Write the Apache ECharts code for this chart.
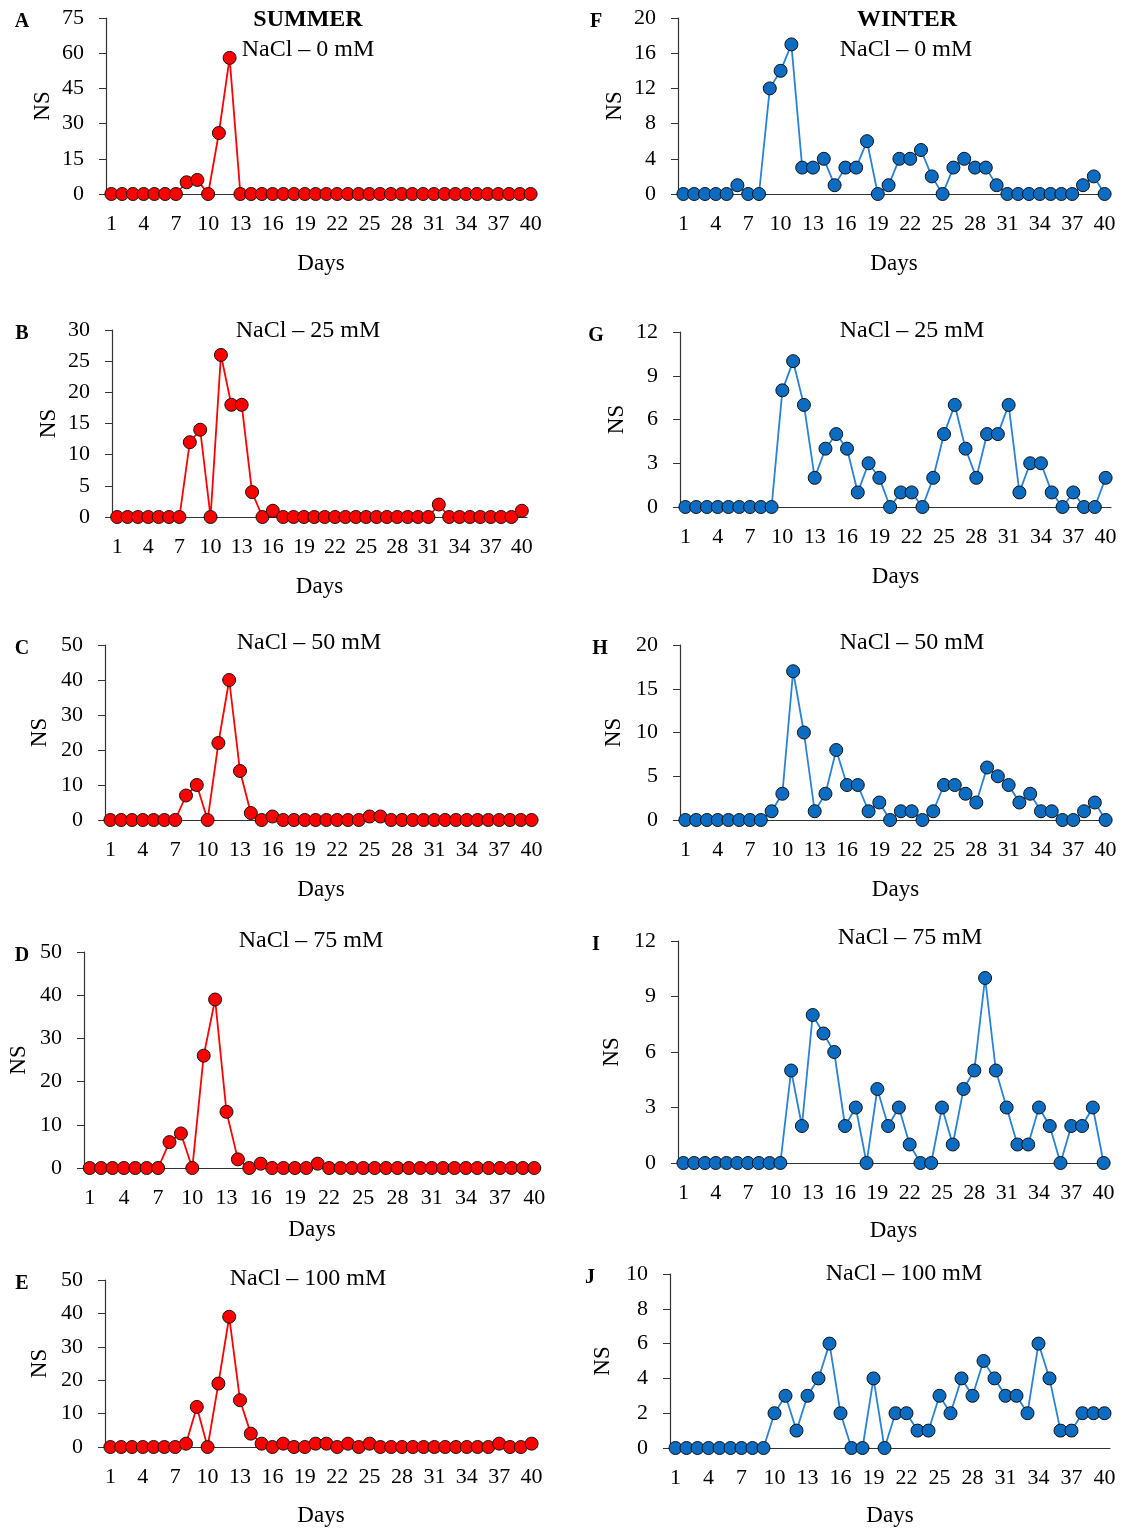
<!DOCTYPE html>
<html>
<head>
<meta charset="utf-8">
<title>NS per day – summer / winter</title>
<script src="https://cdn.jsdelivr.net/npm/echarts@6/dist/echarts.min.js"></script>
<style>
  html, body { margin: 0; padding: 0; background: #fff; }
  #chart { width: 1123px; height: 1528px; }
</style>
</head>
<body>
<div id="chart"></div>
<script>
// days on the x axis
const DAYS = ['1','2','3','4','5','6','7','8','9','10','11','12','13','14','15','16','17','18','19','20',
  '21','22','23','24','25','26','27','28','29','30','31','32','33','34','35','36','37','38','39','40']

const NACL = ['0', '25', '50', '75', '100']

// summer (red), values read per day
const summer0   = [0,0,0,0,0,0,0,5,6,0, 26,58,0,0,0,0,0,0,0,0, 0,0,0,0,0,0,0,0,0,0, 0,0,0,0,0,0,0,0,0,0]
const summer25  = [0,0,0,0,0,0,0,12,14,0, 26,18,18,4,0,1,0,0,0,0, 0,0,0,0,0,0,0,0,0,0, 0,2,0,0,0,0,0,0,0,1]
const summer50  = [0,0,0,0,0,0,0,7,10,0, 22,40,14,2,0,1,0,0,0,0, 0,0,0,0,1,1,0,0,0,0, 0,0,0,0,0,0,0,0,0,0]
const summer75  = [0,0,0,0,0,0,0,6,8,0, 26,39,13,2,0,1,0,0,0,0, 1,0,0,0,0,0,0,0,0,0, 0,0,0,0,0,0,0,0,0,0]
const summer100 = [0,0,0,0,0,0,0,1,12,0, 19,39,14,4,1,0,1,0,0,1, 1,0,1,0,1,0,0,0,0,0, 0,0,0,0,0,0,1,0,0,1]

// winter (blue)
const winter0   = [0,0,0,0,0,1,0,0,12,14, 17,3,3,4,1,3,3,6,0,1, 4,4,5,2,0,3,4,3,3,1, 0,0,0,0,0,0,0,1,2,0]
const winter25  = [0,0,0,0,0,0,0,0,0,8, 10,7,2,4,5,4,1,3,2,0, 1,1,0,2,5,7,4,2,5,5, 7,1,3,3,1,0,1,0,0,2]
const winter50  = [0,0,0,0,0,0,0,0,1,3, 17,10,1,3,8,4,4,1,2,0, 1,1,0,1,4,4,3,2,6,5, 4,2,3,1,1,0,0,1,2,0]
const winter75  = [0,0,0,0,0,0,0,0,0,0, 5,2,8,7,6,2,3,0,4,2, 3,1,0,0,3,1,4,5,10,5, 3,1,1,3,2,0,2,2,3,0]
const winter100 = [0,0,0,0,0,0,0,0,0,2, 3,1,3,4,6,2,0,0,4,0, 2,2,1,1,3,2,4,3,5,4, 3,3,2,6,4,1,1,2,2,2]

// y axis ranges (max / step)
const summerYMax  = [75, 30, 50, 50, 50]
const summerYStep = [15, 5, 10, 10, 10]
const winterYMax  = [20, 12, 20, 12, 10]
const winterYStep = [4, 3, 5, 3, 2]

const FONT = '"Liberation Serif", "Times New Roman", serif'
const RED = '#ff0000'
const BLUE_LINE = '#2a82d6'
const BLUE_DOT = '#0b6cc2'
const AXIS_COLOR = '#333'

// panel boxes in px: plot area of each chart
const PANELS = [
  { letter: 'A', left: 106, top: 18,   width: 430, height: 176, letterX: 22,  nsGap: 52, daysGap: 58, subX: 308, subY: 50 },
  { letter: 'B', left: 112, top: 330,  width: 415, height: 187, letterX: 22,  nsGap: 52, daysGap: 58, subX: 308, subY: 331 },
  { letter: 'C', left: 105, top: 645,  width: 432, height: 175, letterX: 22,  nsGap: 54, daysGap: 58, subX: 309, subY: 643 },
  { letter: 'D', left: 84,  top: 952,  width: 456, height: 216, letterX: 22,  nsGap: 54, daysGap: 50, subX: 311, subY: 941 },
  { letter: 'E', left: 105, top: 1280, width: 432, height: 168, letterX: 22,  nsGap: 54, daysGap: 57, subX: 308, subY: 1279 },
  { letter: 'F', left: 678, top: 18,   width: 432, height: 176, letterX: 596, nsGap: 52, daysGap: 58, subX: 906, subY: 50 },
  { letter: 'G', left: 680, top: 332,  width: 431, height: 175, letterX: 596, nsGap: 52, daysGap: 58, subX: 912, subY: 331 },
  { letter: 'H', left: 680, top: 645,  width: 431, height: 175, letterX: 600, nsGap: 55, daysGap: 58, subX: 912, subY: 643 },
  { letter: 'I', left: 678, top: 941,  width: 431, height: 222, letterX: 596, nsGap: 55, daysGap: 56, subX: 910, subY: 938 },
  { letter: 'J', left: 670, top: 1274, width: 440, height: 175, letterX: 590, nsGap: 56, daysGap: 56, subX: 904, subY: 1274 },
]

const SERIES_DATA = [summer0, summer25, summer50, summer75, summer100, winter0, winter25, winter50, winter75, winter100]

function buildOption() {
  const grid = [], xAxis = [], yAxis = [], series = [], graphic = []

  PANELS.forEach((p, i) => {
    const winter = i >= 5
    const k = i % 5
    const yMax = winter ? winterYMax[k] : summerYMax[k]
    const yStep = winter ? winterYStep[k] : summerYStep[k]

    grid.push({ left: p.left, top: p.top, width: p.width, height: p.height, containLabel: false })

    xAxis.push({
      type: 'category',
      gridIndex: i,
      data: DAYS,
      boundaryGap: true,
      name: 'Days',
      nameLocation: 'middle',
      nameGap: p.daysGap,
      nameTextStyle: { fontFamily: FONT, fontSize: 23, color: '#000' },
      axisLine: { lineStyle: { color: AXIS_COLOR, width: 1.2 } },
      axisTick: { show: false },
      axisLabel: { interval: 2, fontFamily: FONT, fontSize: 22, color: '#000', margin: 19 },
      splitLine: { show: false },
    })

    yAxis.push({
      type: 'value',
      gridIndex: i,
      min: 0,
      max: yMax,
      interval: yStep,
      name: 'NS',
      nameLocation: 'middle',
      nameRotate: 90,
      nameGap: p.nsGap,
      nameTextStyle: { fontFamily: FONT, fontSize: 23, color: '#000' },
      axisLine: { show: true, lineStyle: { color: AXIS_COLOR, width: 1.2 } },
      axisTick: { show: true, length: 7, lineStyle: { color: AXIS_COLOR } },
      axisLabel: { fontFamily: FONT, fontSize: 22, color: '#000', margin: 22 },
      splitLine: { show: false },
    })

    series.push({
      type: 'line',
      xAxisIndex: i,
      yAxisIndex: i,
      data: SERIES_DATA[i],
      symbol: 'circle',
      symbolSize: 13,
      showAllSymbol: true,
      lineStyle: { color: winter ? BLUE_LINE : RED, width: 1.8 },
      itemStyle: { color: winter ? BLUE_DOT : RED, borderColor: '#111', borderWidth: 1 },
      animation: false,
      z: 3,
    })

    // panel letter
    graphic.push({
      type: 'text', x: p.letterX, y: p.top + 4,
      style: { text: p.letter, font: 'bold 20px ' + FONT, fill: '#000',
        align: 'center', verticalAlign: 'middle', textAlign: 'center', textVerticalAlign: 'middle' },
    })
    // NaCl subtitle
    graphic.push({
      type: 'text', x: p.subX, y: p.subY,
      style: { text: 'NaCl \u2013 ' + NACL[k] + ' mM', font: '24px ' + FONT, fill: '#000',
        align: 'center', verticalAlign: 'middle', textAlign: 'center', textVerticalAlign: 'middle' },
    })
  })

  // season headers
  graphic.push({
    type: 'text', x: 308, y: 20,
    style: { text: 'SUMMER', font: 'bold 24px ' + FONT, fill: '#000',
      align: 'center', verticalAlign: 'middle', textAlign: 'center', textVerticalAlign: 'middle' },
  })
  graphic.push({
    type: 'text', x: 907, y: 20,
    style: { text: 'WINTER', font: 'bold 24px ' + FONT, fill: '#000',
      align: 'center', verticalAlign: 'middle', textAlign: 'center', textVerticalAlign: 'middle' },
  })

  return { backgroundColor: '#fff', animation: false, grid, xAxis, yAxis, series, graphic }
}

const chart = echarts.init(document.getElementById('chart'), null, { renderer: 'canvas' })
chart.setOption(buildOption())
</script>
</body>
</html>
